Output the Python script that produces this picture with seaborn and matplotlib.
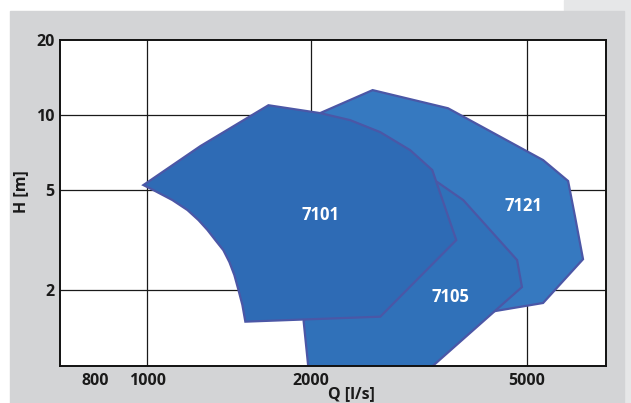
import matplotlib
matplotlib.use("Agg")
import matplotlib.pyplot as plt
import seaborn as sns
from matplotlib.ticker import FixedLocator, FixedFormatter, NullFormatter

# ================== data ==================
# pump working ranges, Q [l/s] vs H [m]
q_7121 = [2600, 3580, 5360, 5960, 6140, 6350, 5360, 4280, 3930, 3460, 2080]
h_7121 = [12.6, 10.66, 6.61, 5.45, 3.91, 2.65, 1.77, 1.63, 1.51, 4.57, 10.19]

q_7105 = [1980, 3320, 4900, 4800, 3820, 3420, 2920, 1940]
h_7105 = [0.97, 0.97, 2.05, 2.63, 4.57, 5.40, 4.57, 1.50]

q_7101 = [983, 1252, 1671, 2083, 2365, 2686, 3050, 3349, 3708, 2686,
          1515, 1496, 1471, 1446, 1416, 1380, 1334, 1290, 1242, 1185, 1112, 1026]
h_7101 = [5.25, 7.52, 10.96, 10.19, 9.55, 8.55, 7.24, 6.03, 3.16, 1.56,
          1.49, 1.74, 2.00, 2.29, 2.58, 2.88, 3.16, 3.47, 3.80, 4.17, 4.57, 5.01]

labels = ["7121", "7105", "7101"]
label_q = [4925, 3614, 2083]
label_h = [4.33, 1.87, 3.98]

x_major = [1000, 2000, 5000]
x_minor = [800, 900, 4000, 6000]
y_major = [2, 5, 10, 20]
y_minor = [3, 4, 6, 7, 8, 9]
# ==========================================

sns.set_theme(style="white")
plt.rcParams["font.family"] = ["Open Sans", "DejaVu Sans"]

fig = plt.figure(figsize=(6.31, 4.03), dpi=100)
fig.patch.set_facecolor("white")
# grey panel and lighter strip
fig.patches.append(plt.Rectangle((564 / 631, 392 / 403), 67 / 631, 11 / 403,
                                 transform=fig.transFigure, color="#e6e7e8", zorder=-3))
fig.patches.append(plt.Rectangle((624 / 631, 0), 7 / 631, 392 / 403,
                                 transform=fig.transFigure, color="#e6e7e8", zorder=-3))
fig.patches.append(plt.Rectangle((10 / 631, 0), 614 / 631, 392 / 403,
                                 transform=fig.transFigure, color="#d3d4d6", zorder=-2))

ax = fig.add_axes([60 / 631, 37 / 403, 546 / 631, 326 / 403])
ax.set_facecolor("white")
ax.set_xscale("log")
ax.set_yscale("log")
ax.set_xlim(690, 7000)
ax.set_ylim(0.99, 20)

edge = "#4b57a6"
fills = ["#3679c0", "#3071b9", "#2e6bb5"]
for (q, h), fc in zip([(q_7121, h_7121), (q_7105, h_7105), (q_7101, h_7101)], fills):
    ax.fill(q, h, facecolor=fc, edgecolor=edge, linewidth=1.6, zorder=3)

for name, q, h in zip(labels, label_q, label_h):
    ax.text(q, h, name, color="white", fontsize=12, fontweight="bold",
            ha="center", va="center", zorder=5)

# grid
for v in x_major:
    ax.axvline(v, color="#1a1a1a", lw=0.9, zorder=1)
for v in y_major[:-1]:
    ax.axhline(v, color="#1a1a1a", lw=0.9, zorder=1)

ax.xaxis.set_major_locator(FixedLocator(x_major))
ax.xaxis.set_major_formatter(FixedFormatter([str(v) for v in x_major]))
ax.xaxis.set_minor_locator(FixedLocator(x_minor))
ax.xaxis.set_minor_formatter(FixedFormatter(["800", "", "", ""]))
ax.yaxis.set_major_locator(FixedLocator(y_major))
ax.yaxis.set_major_formatter(FixedFormatter([str(v) for v in y_major]))
ax.yaxis.set_minor_locator(FixedLocator(y_minor))
ax.yaxis.set_minor_formatter(NullFormatter())

for axis in ("x", "y"):
    ax.tick_params(axis=axis, which="major", direction="in", length=8, width=1.4,
                   color="#1a1a1a", labelsize=11.5, labelcolor="#1a1a1a")
    ax.tick_params(axis=axis, which="minor", direction="in", length=5, width=1.0,
                   color="#1a1a1a", labelsize=11.5, labelcolor="#1a1a1a")
ax.tick_params(axis="x", which="both", pad=5)
ax.tick_params(axis="y", which="both", pad=4)
for lab in ax.get_xticklabels(which="both") + ax.get_yticklabels(which="both"):
    lab.set_fontweight("bold")

for sp in ax.spines.values():
    sp.set_color("#111111")
    sp.set_linewidth(1.4)
    sp.set_zorder(6)

ax.set_xlabel("Q [l/s]", fontsize=11.5, fontweight="bold", color="#1a1a1a")
ax.set_ylabel("H [m]", fontsize=11.5, fontweight="bold", color="#1a1a1a")
ax.xaxis.set_label_coords(0.533, -0.062)
ax.yaxis.set_label_coords(-0.057, 0.534)

fig.savefig("out.png", dpi=100)
